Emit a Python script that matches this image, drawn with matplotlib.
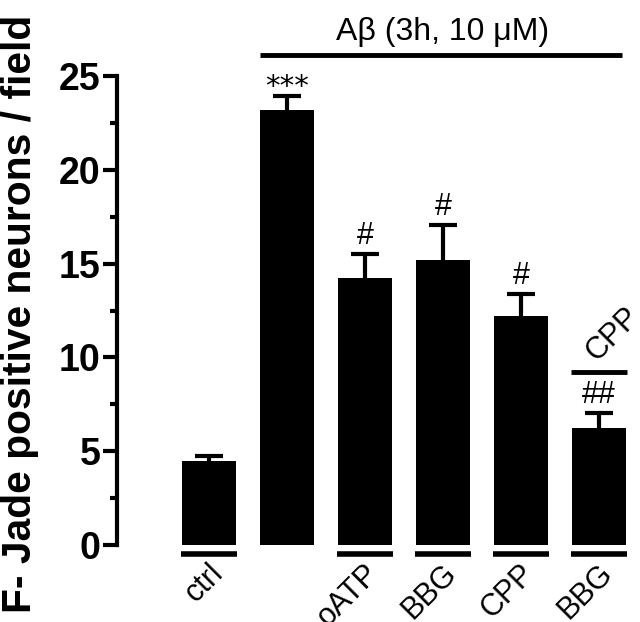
import matplotlib
matplotlib.use("Agg")
import matplotlib.pyplot as plt
import numpy as np

plt.rcParams['font.family'] = ['Liberation Sans', 'DejaVu Sans']

# data
categories = ["ctrl", "", "oATP", "BBG", "CPP", "BBG"]
values = [4.5, 23.2, 14.25, 15.2, 12.2, 6.25]
errors = [0.25, 0.75, 1.25, 1.85, 1.2, 0.8]
markers = ["", "***", "#", "#", "#", "##"]
yticks = [0, 5, 10, 15, 20, 25]
group_label = "A\u03b2 (3h, 10 \u03bcM)"
combo_label = "CPP"
ylabel = "F- Jade positive neurons / field"

W, H = 640, 622
fig = plt.figure(figsize=(W / 100, H / 100), dpi=100)
ax = fig.add_axes([117 / W, (H - 545) / H, (W - 117) / W, (545 - 76) / H])

x = np.arange(len(values))
tops = np.array(values) + np.array(errors)
ax.vlines(x, values, tops, color='black', lw=3, zorder=1)
ax.hlines(tops, x - 0.18, x + 0.18, color='black', lw=3, zorder=1)
ax.bar(x, values, width=0.7, color='black', zorder=2)

ax.set_xlim(-1.18, 5.526)
ax.set_ylim(0, 25)
for s in ['top', 'right', 'bottom']:
    ax.spines[s].set_visible(False)
ax.spines['left'].set_linewidth(3)
ax.set_xticks([])
ax.set_yticks(yticks)
ax.set_yticks(np.arange(2.5, 25, 5), minor=True)
ax.tick_params(axis='y', which='major', length=10, width=3, pad=2,
               labelsize=27)
ax.tick_params(axis='y', which='minor', length=5, width=3)
for lab in ax.get_yticklabels():
    lab.set_fontweight('bold')

# underlines and x labels
for xi, cat in zip(x, categories):
    if cat:
        ax.plot([xi - 0.36, xi + 0.36], [-0.48, -0.48], color='black', lw=4,
                clip_on=False, solid_capstyle='butt')
        ax.text(xi + 0.12, -1.28, cat, rotation=45, rotation_mode='anchor',
                ha='right', va='center', fontsize=22)

# significance markers
for xi, t, m in zip(x, tops, markers):
    if m.startswith('*'):
        ax.text(xi, t + 0.05, m, ha='center', va='baseline', fontsize=21,
                family='DejaVu Sans')
    elif m:
        ax.text(xi, t + 0.95, m, ha='center', va='center', fontsize=22)

# group line
ax.plot([0.655, 5.3], [26.1, 26.1], color='black', lw=3.5, clip_on=False,
        solid_capstyle='butt')
ax.text(3.0, 27.35, group_label, ha='center', va='center', fontsize=23)

# CPP combination annotation
ax.plot([4.64, 5.36], [9.2, 9.2], color='black', lw=3.5, clip_on=False,
        solid_capstyle='butt')
ax.text(5.03, 9.5, combo_label, rotation=45, rotation_mode='anchor',
        ha='left', va='bottom', fontsize=22)

fig.text(0.032, 0.014, ylabel, rotation=90, ha='center', va='bottom',
         fontsize=29.3, fontweight='bold')

fig.savefig("out.png", dpi=100)
